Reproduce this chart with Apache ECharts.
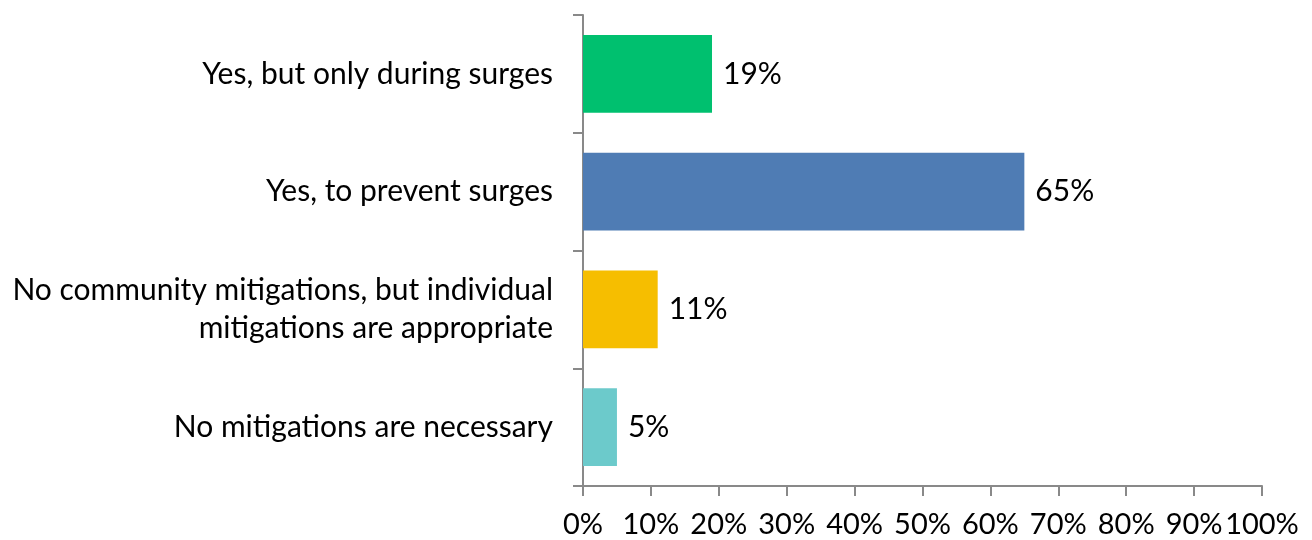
<!DOCTYPE html>
<html>
<head>
    <meta charset="utf-8">
    <title>Mitigations</title>
    <script src="https://cdn.jsdelivr.net/npm/echarts@6/dist/echarts.min.js"></script>
    <style>
        html, body { margin: 0; padding: 0; background: #fff; }
        #chart { width: 1312px; height: 540px; }
    </style>
</head>
<body>
<div id="chart"></div>
<script type="text/javascript">
    // data (top to bottom)
    var categories = [
        'Yes, but only during surges',
        'Yes, to prevent surges',
        'No community mitigations, but individual\nmitigations are appropriate',
        'No mitigations are necessary'
    ];
    var values = [19, 65, 11, 5];
    var barColors = ['#00c06f', '#4f7cb4', '#f6be00', '#6ccacb'];

    var axisGrey = '#898989';
    var font = 'Lato, "Open Sans", sans-serif';

    var myChart = echarts.init(document.getElementById('chart'));

    var option = {
        animation: false,
        grid: { left: 583, right: 50, top: 15, bottom: 54 },
        xAxis: {
            type: 'value',
            min: 0,
            max: 100,
            interval: 10,
            axisLine: { show: true, lineStyle: { color: axisGrey, width: 2 } },
            axisTick: { show: true, length: 10, lineStyle: { color: axisGrey, width: 2 } },
            splitLine: { show: false },
            axisLabel: {
                formatter: '{value}%',
                color: '#000',
                fontSize: 29,
                fontFamily: font,
                margin: 24
            }
        },
        yAxis: {
            type: 'category',
            inverse: true,
            data: categories,
            axisLine: { show: true, lineStyle: { color: axisGrey, width: 2 } },
            axisTick: { show: true, length: 10, lineStyle: { color: axisGrey, width: 2 } },
            axisLabel: {
                color: '#000',
                fontSize: 30,
                fontFamily: font,
                margin: 30,
                lineHeight: 38,
                align: 'right'
            }
        },
        series: [{
            type: 'bar',
            barCategoryGap: '34%',
            data: values.map(function (v, i) {
                return { value: v, itemStyle: { color: barColors[i] } };
            }),
            label: {
                show: true,
                position: 'right',
                distance: 11,
                formatter: '{c}%',
                color: '#000',
                fontSize: 30,
                fontFamily: font
            }
        }]
    };

    myChart.setOption(option);
</script>
</body>
</html>
